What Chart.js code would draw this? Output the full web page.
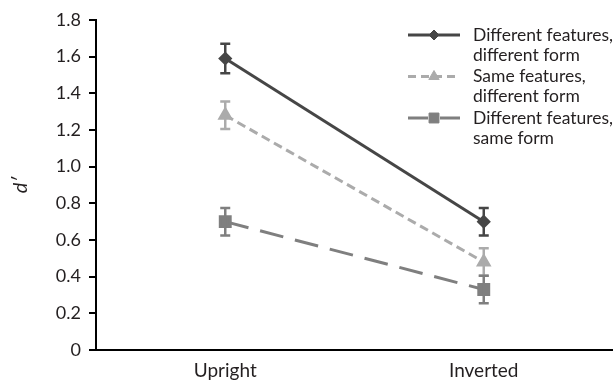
<!DOCTYPE html>
<html>
<head>
<meta charset="utf-8">
<script src="https://cdn.jsdelivr.net/npm/chart.js@4.4.0/dist/chart.umd.min.js"></script>
<style>
    html, body { margin: 0; padding: 0; background: #fff; overflow: hidden; }
    #wrap { position: relative; width: 613px; height: 381px; }
    canvas { display: block; }
</style>
</head>
<body>
<div id="wrap"><canvas id="chart" width="613" height="381"></canvas></div>
<script>
// Chart data
const categories = ['Upright', 'Inverted'];
const diffFeatDiffForm = [1.59, 0.70];
const diffFeatDiffFormErr = [0.08, 0.075];
const sameFeatDiffForm = [1.28, 0.48];
const sameFeatDiffFormErr = [0.075, 0.075];
const diffFeatSameForm = [0.70, 0.33];
const diffFeatSameFormErr = [0.075, 0.075];
const yTicks = [0, 0.2, 0.4, 0.6, 0.8, 1.0, 1.2, 1.4, 1.6, 1.8];

const seriesLabels = [
    ['Different features,', 'different form'],
    ['Same features,', 'different form'],
    ['Different features,', 'same form']
];

const FONT = 'Lato, "Open Sans", sans-serif';
const TEXT = '#231f20';

// Draw error bars from the y scale
const errorBars = {
    id: 'errorBars',
    afterDatasetsDraw(chart) {
        const ctx = chart.ctx;
        const y = chart.scales.y;
        chart.data.datasets.forEach((ds, i) => {
            const meta = chart.getDatasetMeta(i);
            meta.data.forEach((pt, j) => {
                const v = ds.data[j], e = ds.errors[j];
                const top = y.getPixelForValue(v + e);
                const bot = y.getPixelForValue(v - e);
                ctx.save();
                ctx.strokeStyle = ds.borderColor;
                ctx.lineWidth = 2.5;
                ctx.beginPath();
                ctx.moveTo(pt.x, top); ctx.lineTo(pt.x, bot);
                ctx.moveTo(pt.x - 5, top); ctx.lineTo(pt.x + 5, top);
                ctx.moveTo(pt.x - 5, bot); ctx.lineTo(pt.x + 5, bot);
                ctx.stroke();
                ctx.restore();
            });
        });
    }
};

// Legend with two-line labels
const sideLegend = {
    id: 'sideLegend',
    afterDraw(chart) {
        const ctx = chart.ctx;
        const x0 = 408, x1 = 460, tx = 473;
        chart.data.datasets.forEach((ds, i) => {
            const yy = 35 + i * 41.5;
            ctx.save();
            ctx.strokeStyle = ds.borderColor;
            ctx.lineWidth = 3;
            ctx.setLineDash(ds.legendDash || []);
            ctx.beginPath();
            ctx.moveTo(x0, yy); ctx.lineTo(x1, yy);
            ctx.stroke();
            ctx.setLineDash([]);
            ctx.fillStyle = ds.pointBackgroundColor;
            ctx.strokeStyle = ds.borderColor;
            ctx.lineWidth = 1;
            Chart.helpers.drawPoint(ctx, {
                pointStyle: ds.pointStyle, radius: ds.pointRadius, rotation: 0, borderWidth: 1
            }, 434, yy);
            ctx.fillStyle = TEXT;
            ctx.font = '17.5px ' + FONT;
            ctx.textBaseline = 'middle';
            seriesLabels[i].forEach((t, k) => ctx.fillText(t, tx, yy + k * 20));
            ctx.restore();
        });
    }
};

new Chart(document.getElementById('chart'), {
    type: 'line',
    data: {
        labels: categories,
        datasets: [
            {
                label: seriesLabels[0].join(' '),
                data: diffFeatDiffForm,
                errors: diffFeatDiffFormErr,
                borderColor: '#464646',
                backgroundColor: '#464646',
                pointBackgroundColor: '#464646',
                borderWidth: 3,
                pointStyle: 'rectRot',
                pointRadius: 5,
                legendDash: []
            },
            {
                label: seriesLabels[1].join(' '),
                data: sameFeatDiffForm,
                errors: sameFeatDiffFormErr,
                borderColor: '#ababab',
                backgroundColor: '#ababab',
                pointBackgroundColor: '#ababab',
                borderWidth: 3,
                borderDash: [9, 5],
                pointStyle: 'triangle',
                pointRadius: 6,
                legendDash: [8, 5]
            },
            {
                label: seriesLabels[2].join(' '),
                data: diffFeatSameForm,
                errors: diffFeatSameFormErr,
                borderColor: '#7f7f7f',
                backgroundColor: '#7f7f7f',
                pointBackgroundColor: '#7f7f7f',
                borderWidth: 3,
                borderDash: [24, 12],
                pointStyle: 'rect',
                pointRadius: 7,
                legendDash: [20, 12]
            }
        ]
    },
    options: {
        responsive: false,
        animation: false,
        layout: { autoPadding: false, padding: { top: 20, right: 0, bottom: 0, left: 0 } },
        plugins: {
            legend: { display: false },
            tooltip: { enabled: false }
        },
        scales: {
            x: {
                offset: true,
                grid: { display: false, drawTicks: false },
                border: { display: true, color: '#000', width: 2 },
                ticks: { color: TEXT, font: { family: FONT, size: 19 }, padding: 9 },
                afterFit(scale) {
                    scale.height = 31;
                    scale.paddingLeft = 0;
                    scale.paddingRight = 0;
                }
            },
            y: {
                min: 0,
                max: 1.8,
                afterBuildTicks(scale) { scale.ticks = yTicks.map(v => ({ value: v })); },
                grid: { drawOnChartArea: false, drawTicks: true, tickLength: 7, color: '#000', lineWidth: 2 },
                border: { display: true, color: '#000', width: 2 },
                ticks: {
                    color: TEXT,
                    font: { family: FONT, size: 18 },
                    padding: 8,
                    callback: v => v === 0 ? '0' : v.toFixed(1)
                },
                title: {
                    display: true,
                    text: 'd\u2032',
                    color: TEXT,
                    font: { family: FONT, size: 20, style: 'italic' },
                    padding: { top: 9, bottom: 0 }
                },
                afterFit(scale) { scale.width = 96; }
            }
        }
    },
    plugins: [errorBars, sideLegend]
});
</script>
</body>
</html>
